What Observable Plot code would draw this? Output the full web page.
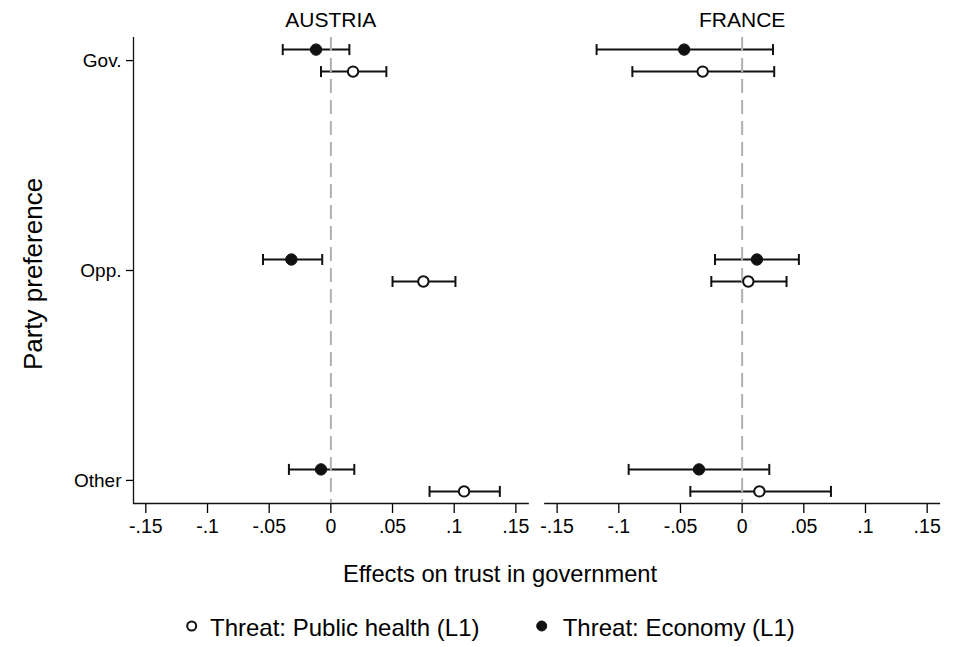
<!DOCTYPE html>
<html>
<head>
<meta charset="utf-8">
<script src="https://cdn.jsdelivr.net/npm/d3@7"></script>
<script src="https://cdn.jsdelivr.net/npm/@observablehq/plot@0.6"></script>
<style>
  html, body { margin: 0; padding: 0; background: #fff; }
  body { width: 961px; font-family: "Liberation Sans", Arial, Helvetica, sans-serif; }
  #legend { position: relative; width: 961px; height: 47px; }
</style>
</head>
<body>
<div id="chart"></div>
<div id="legend"></div>
<script>
// ---- data ----
const countries = ["AUSTRIA", "FRANCE"];
const parties = ["Gov.", "Opp.", "Other"];
const threats = ["Threat: Public health (L1)", "Threat: Economy (L1)"];
const xTicks = [-0.15, -0.1, -0.05, 0, 0.05, 0.1, 0.15];

const austriaHealthEst = [0.018, 0.075, 0.108];
const austriaHealthLo  = [-0.008, 0.050, 0.080];
const austriaHealthHi  = [0.045, 0.101, 0.137];
const austriaEconEst   = [-0.012, -0.032, -0.008];
const austriaEconLo    = [-0.039, -0.055, -0.034];
const austriaEconHi    = [0.015, -0.007, 0.019];

const franceHealthEst  = [-0.032, 0.005, 0.014];
const franceHealthLo   = [-0.089, -0.025, -0.042];
const franceHealthHi   = [0.026, 0.036, 0.072];
const franceEconEst    = [-0.047, 0.012, -0.035];
const franceEconLo     = [-0.118, -0.022, -0.092];
const franceEconHi     = [0.025, 0.046, 0.022];

// ---- build table ----
const rows = [];
function add(country, threat, est, lo, hi) {
  parties.forEach((p, i) => rows.push({country, threat, party: p, est: est[i], lo: lo[i], hi: hi[i]}));
}
add("AUSTRIA", threats[0], austriaHealthEst, austriaHealthLo, austriaHealthHi);
add("AUSTRIA", threats[1], austriaEconEst, austriaEconLo, austriaEconHi);
add("FRANCE", threats[0], franceHealthEst, franceHealthLo, franceHealthHi);
add("FRANCE", threats[1], franceEconEst, franceEconLo, franceEconHi);

const health = rows.filter(d => d.threat === threats[0]);
const econ = rows.filter(d => d.threat === threats[1]);

const fmt = d => d === 0 ? "0" : (d < 0 ? "-" : "") + String(Math.abs(d)).replace(/^0/, "");

// vertical cap symbol for error-bar ends
const capSymbol = {
  draw(ctx, size) {
    const h = Math.sqrt(size / Math.PI);
    ctx.moveTo(0, -h);
    ctx.lineTo(0, h);
  }
};

const ink = "#111";
const offE = -11, offH = 11;

function seriesMarks(data, dy) {
  return [
    Plot.ruleY(data, {fx: "country", y: "party", x1: "lo", x2: "hi", dy, stroke: ink, strokeWidth: 2}),
    Plot.dot(data, {fx: "country", y: "party", x: "lo", dy, symbol: capSymbol, r: 5.5, stroke: ink, strokeWidth: 2, fill: "none"}),
    Plot.dot(data, {fx: "country", y: "party", x: "hi", dy, symbol: capSymbol, r: 5.5, stroke: ink, strokeWidth: 2, fill: "none"})
  ];
}

const chart = Plot.plot({
  width: 961,
  height: 600,
  marginLeft: 133,
  marginRight: 22,
  marginTop: 37,
  marginBottom: 97,
  style: {fontFamily: '"Liberation Sans", Arial, Helvetica, sans-serif', color: "#000", background: "#fff"},
  fx: {domain: countries, paddingInner: 0.0403, paddingOuter: 0, round: false},
  x: {domain: [-0.16, 0.16]},
  y: {type: "point", domain: parties, padding: 0.11, round: false},
  marks: [
    Plot.axisFx({anchor: "top", tickSize: 0, tickPadding: 11, fontSize: 21, label: null}),
    Plot.axisX({ticks: xTicks, tickFormat: fmt, tickSize: 10, tickPadding: 6, fontSize: 19.5, label: null, strokeWidth: 1.3}),
    Plot.axisY({tickSize: 7, tickPadding: 5, fontSize: 19, label: null, strokeWidth: 1.3}),
    Plot.frame({anchor: "bottom", stroke: ink, strokeWidth: 1.3}),
    Plot.ruleX([countries[0]], {fx: d => d, x: -0.16, stroke: ink, strokeWidth: 1.3}),
    ...seriesMarks(econ, offE),
    ...seriesMarks(health, offH),
    Plot.ruleX([0], {stroke: "#b0b0b0", strokeWidth: 2, strokeDasharray: "14,7"}),
    Plot.dot(econ, {fx: "country", y: "party", x: "est", dy: offE, r: 5.7, fill: ink, stroke: ink, strokeWidth: 1}),
    Plot.dot(health, {fx: "country", y: "party", x: "est", dy: offH, r: 5.2, fill: "#fff", stroke: ink, strokeWidth: 2})
  ]
});

const svg = d3.select(chart);
svg.append("text")
  .attr("x", 500).attr("y", 582)
  .attr("text-anchor", "middle")
  .attr("font-size", 23.7)
  .attr("fill", "#000")
  .text("Effects on trust in government");
svg.append("text")
  .attr("transform", "translate(41.5,274) rotate(-90)")
  .attr("text-anchor", "middle")
  .attr("font-size", 26)
  .attr("fill", "#000")
  .text("Party preference");

document.getElementById("chart").appendChild(chart);

// ---- legend (below the plot) ----
const leg = d3.select("#legend").append("svg")
  .attr("width", 961).attr("height", 47)
  .style("display", "block");
const items = [
  {label: threats[0], cx: 191.7, tx: 210, fill: "#fff", r: 4.5, sw: 2},
  {label: threats[1], cx: 541.7, tx: 562.7, fill: ink, r: 5, sw: 1}
];
items.forEach(it => {
  leg.append("circle").attr("cx", it.cx).attr("cy", 26).attr("r", it.r)
    .attr("fill", it.fill).attr("stroke", ink).attr("stroke-width", it.sw);
  leg.append("text").attr("x", it.tx).attr("y", 36)
    .attr("font-size", 24).attr("fill", "#000")
    .attr("font-family", '"Liberation Sans", Arial, Helvetica, sans-serif')
    .text(it.label);
});
</script>
</body>
</html>
